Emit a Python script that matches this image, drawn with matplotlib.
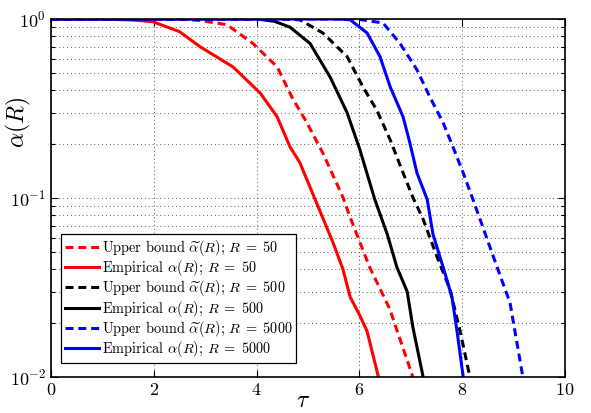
import matplotlib
matplotlib.use("Agg")
import matplotlib.pyplot as plt
from matplotlib.ticker import LogLocator, NullFormatter, FixedLocator

plt.rcParams['font.family'] = 'serif'
plt.rcParams['font.serif'] = ['cmr10', 'DejaVu Serif']
plt.rcParams['mathtext.fontset'] = 'cm'
plt.rcParams['axes.formatter.use_mathtext'] = True
plt.rcParams['axes.unicode_minus'] = False

# ---- data ----
tau_emp50 = [0, 1.0, 1.6, 1.98, 2.5, 2.9, 3.54, 4.07, 4.40, 4.65, 4.84, 5.14, 5.49, 5.68, 5.82, 6.01, 6.15, 6.37]
alpha_emp50 = [1.0, 1.0, 0.987, 0.966, 0.85, 0.70, 0.54, 0.386, 0.284, 0.193, 0.158, 0.098, 0.056, 0.040, 0.028, 0.022, 0.018, 0.010]

tau_ub50 = [0, 2.5, 2.9, 3.42, 3.93, 4.40, 4.70, 4.98, 5.29, 5.68, 5.82, 6.2, 6.59, 7.04]
alpha_ub50 = [1.0, 1.0, 0.98, 0.93, 0.73, 0.54, 0.36, 0.263, 0.178, 0.101, 0.078, 0.041, 0.024, 0.010]

tau_emp500 = [0, 4.01, 4.35, 4.65, 5.04, 5.43, 5.76, 6.01, 6.30, 6.54, 6.73, 6.93, 7.04, 7.24]
alpha_emp500 = [1.0, 1.0, 0.97, 0.90, 0.73, 0.474, 0.30, 0.186, 0.098, 0.063, 0.041, 0.030, 0.019, 0.010]

tau_ub500 = [0, 4.5, 4.84, 5.29, 5.76, 6.07, 6.34, 6.60, 6.85, 7.04, 7.24, 7.51, 7.76, 7.96, 8.15]
alpha_ub500 = [1.0, 1.0, 0.99, 0.835, 0.617, 0.417, 0.309, 0.211, 0.138, 0.101, 0.076, 0.047, 0.031, 0.018, 0.010]

tau_emp5000 = [0, 5.6, 5.82, 6.15, 6.40, 6.60, 6.85, 6.98, 7.12, 7.32, 7.43, 7.63, 7.80, 7.90, 8.02]
alpha_emp5000 = [1.0, 1.0, 0.99, 0.835, 0.617, 0.417, 0.284, 0.204, 0.138, 0.098, 0.063, 0.041, 0.028, 0.018, 0.010]

tau_ub5000 = [0, 5.95, 6.46, 6.79, 7.12, 7.37, 7.63, 7.82, 8.02, 8.21, 8.40, 8.68, 8.93, 9.18]
alpha_ub5000 = [1.0, 1.0, 0.95, 0.73, 0.52, 0.367, 0.263, 0.193, 0.138, 0.098, 0.069, 0.041, 0.026, 0.010]

labels = [r'Upper bound $\widetilde{\alpha}(R)$; $R\;=\;50$',
          r'Empirical $\alpha(R)$; $R\;=\;50$',
          r'Upper bound $\widetilde{\alpha}(R)$; $R\;=\;500$',
          r'Empirical $\alpha(R)$; $R\;=\;500$',
          r'Upper bound $\widetilde{\alpha}(R)$; $R\;=\;5000$',
          r'Empirical $\alpha(R)$; $R\;=\;5000$']

series = [(tau_ub50, alpha_ub50, 'red', True),
          (tau_emp50, alpha_emp50, 'red', False),
          (tau_ub500, alpha_ub500, 'black', True),
          (tau_emp500, alpha_emp500, 'black', False),
          (tau_ub5000, alpha_ub5000, 'blue', True),
          (tau_emp5000, alpha_emp5000, 'blue', False)]

fig = plt.figure(figsize=(5.91, 4.13), dpi=100)
ax = fig.add_axes([51/591, 36/413, 514/591, 358/413])

for (t, a, c, dashed), lab in zip(series, labels):
    if dashed:
        ax.plot(t, a, color=c, lw=2.2, linestyle=(0, (2.6, 1.6)), label=lab)
    else:
        ax.plot(t, a, color=c, lw=2.2, label=lab)

ax.set_yscale('log')
ax.set_xlim(0, 10)
ax.set_ylim(1e-2, 1)
ax.set_xticks([0, 2, 4, 6, 8, 10])
ax.yaxis.set_major_locator(FixedLocator([1e-2, 1e-1, 1]))
ax.yaxis.set_minor_locator(LogLocator(base=10, subs=range(2, 10)))
ax.yaxis.set_minor_formatter(NullFormatter())

ax.grid(True, which='major', axis='x', linestyle=(0, (1, 3)), color='0.35', lw=0.7)
ax.grid(True, which='both', axis='y', linestyle=(0, (1, 3)), color='0.35', lw=0.7)

ax.tick_params(which='both', direction='in', top=True, right=True, labelsize=13)
ax.tick_params(which='major', length=5, width=0.8)
ax.tick_params(which='minor', length=3, width=0.8)
for s in ax.spines.values():
    s.set_linewidth(1.2)

ax.set_xlabel(r'$\tau$', fontsize=17)
ax.xaxis.set_label_coords(0.49, -0.035)
ax.set_ylabel(r'$\alpha(R)$', fontsize=17)
ax.yaxis.set_label_coords(-0.035, 0.71)

leg = ax.legend(loc='lower left', bbox_to_anchor=(0.02, 0.04), borderaxespad=0,
                fontsize=10.3, frameon=True, fancybox=False, handlelength=2.4,
                handletextpad=0.2, labelspacing=0.02, borderpad=0.25)
leg.get_frame().set_edgecolor('black')
leg.get_frame().set_linewidth(0.9)
leg.get_frame().set_alpha(1)

fig.savefig('out.png', dpi=100)
